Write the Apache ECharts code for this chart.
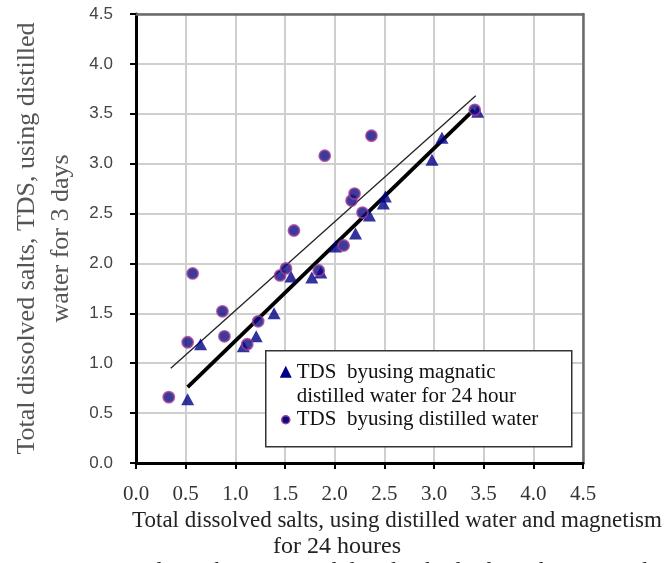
<!DOCTYPE html>
<html>
<head>
<meta charset="utf-8">
<script src="https://cdn.jsdelivr.net/npm/echarts@6/dist/echarts.min.js"></script>
<style>
  html, body { margin: 0; padding: 0; background: #ffffff; }
  #chart { width: 667px; height: 563px; }
</style>
</head>
<body>
<div id="chart"></div>
<script>
// TDS after 24 h in magnetised distilled water (x) vs TDS after 3 days (y)
const magnetizedPoints = [
  [0.52, 0.64], [0.65, 1.19], [1.08, 1.17], [1.21, 1.27], [1.39, 1.50],
  [1.56, 1.87], [1.77, 1.86], [1.86, 1.91], [2.01, 2.17], [2.21, 2.30],
  [2.35, 2.48], [2.49, 2.60], [2.51, 2.67], [2.98, 3.04], [3.08, 3.26],
  [3.44, 3.52]
];

// TDS in plain distilled water
const distilledPoints = [
  [0.33, 0.66], [0.52, 1.21], [0.57, 1.90], [0.87, 1.52], [0.89, 1.27],
  [1.12, 1.19], [1.23, 1.42], [1.45, 1.88], [1.51, 1.95], [1.59, 2.33],
  [1.84, 1.93], [1.90, 3.08], [2.09, 2.18], [2.17, 2.63], [2.20, 2.70],
  [2.28, 2.51], [2.37, 3.28], [3.41, 3.54]
];

// Linear trend lines (end points of each fitted line)
const magnetizedTrend = [[0.52, 0.76], [3.40, 3.54]];
const distilledTrend = [[0.35, 0.95], [3.42, 3.68]];

// Axis range and tick step shared by both axes
const axisMin = 0;
const axisMax = 4.5;
const axisStep = 0.5;

const legendLabels = [
  'TDS  byusing magnatic',
  'distilled water for 24 hour',
  'TDS  byusing distilled water'
];
const xTitleLines = [
  'Total dissolved salts, using distilled water and magnetism',
  'for 24 houres'
];
const yTitle = 'Total dissolved salts, TDS, using distilled\nwater for 3 days';
const captionText = 'Relation between total dissolved salts for 3 days using distilled water';

const serif = '"Liberation Serif", "Times New Roman", serif';
const sans = '"Liberation Sans", Arial, sans-serif';
const triColor = '#000086';
const dotFill = '#0a0a80';
const dotBorder = '#a03c9a';

const frameAxis = {
  type: 'value', min: axisMin, max: axisMax, interval: axisStep,
  axisLine: { show: true, onZero: false, lineStyle: { color: '#6a6a6a', width: 2.5 } },
  axisTick: { show: false }, axisLabel: { show: false }, splitLine: { show: false }
};

const chart = echarts.init(document.getElementById('chart'), null, { renderer: 'canvas' });

chart.setOption({
  animation: false,
  backgroundColor: '#ffffff',
  grid: { left: 136, top: 14, right: 84, bottom: 100 },
  xAxis: [
    {
      type: 'value', min: axisMin, max: axisMax, interval: axisStep, position: 'bottom',
      axisLine: { show: true, onZero: false, lineStyle: { color: '#000', width: 3 } },
      axisTick: { show: true, inside: false, length: 6, lineStyle: { color: '#000', width: 2 } },
      splitLine: { show: true, lineStyle: { color: '#cfcfcf', width: 2 } },
      axisLabel: {
        margin: 21, fontFamily: serif, fontSize: 21, color: '#333',
        formatter: v => v.toFixed(1)
      },
      name: xTitleLines[0], nameLocation: 'middle', nameGap: 40,
      nameTextStyle: { fontFamily: serif, fontSize: 23, color: '#222', padding: [0, 0, 0, 75] }
    },
    Object.assign({ position: 'top' }, frameAxis)
  ],
  yAxis: [
    {
      type: 'value', min: axisMin, max: axisMax, interval: axisStep, position: 'left',
      axisLine: { show: true, onZero: false, lineStyle: { color: '#000', width: 3 } },
      axisTick: { show: true, inside: false, length: 6, lineStyle: { color: '#000', width: 2 } },
      splitLine: { show: true, lineStyle: { color: '#cfcfcf', width: 2 } },
      axisLabel: {
        margin: 23, fontFamily: sans, fontSize: 17, color: '#444',
        formatter: v => v.toFixed(1)
      },
      name: yTitle, nameLocation: 'middle', nameRotate: 90, nameGap: 57,
      nameTextStyle: { fontFamily: serif, fontSize: 26, lineHeight: 34, color: '#555' }
    },
    Object.assign({ position: 'right' }, frameAxis)
  ],
  series: [
    {
      name: 'distilled trend', type: 'line', data: distilledTrend,
      showSymbol: false, silent: true, z: 2,
      lineStyle: { color: '#222', width: 1.3 }
    },
    {
      name: 'magnetized trend', type: 'line', data: magnetizedTrend,
      showSymbol: false, silent: true, z: 2,
      lineStyle: { color: '#000', width: 3.8 }
    },
    {
      name: legendLabels[0], type: 'scatter', data: magnetizedPoints, z: 3,
      symbol: 'triangle', symbolSize: [13, 12],
      itemStyle: { color: triColor }
    },
    {
      name: legendLabels[2], type: 'scatter', data: distilledPoints, z: 4,
      symbol: 'circle', symbolSize: 11,
      itemStyle: { color: dotFill, borderColor: dotBorder, borderWidth: 1.8 }
    }
  ],
  graphic: [
    // legend box
    {
      type: 'group', left: 265, top: 350, z: 100,
      children: [
        { type: 'rect', z: 100, shape: { x: 0, y: 0, width: 306, height: 96 },
          style: { fill: '#fff', stroke: '#333', lineWidth: 1.5 } },
        { type: 'polygon', z: 101, shape: { points: [[20, 15], [26, 27], [14, 27]] },
          style: { fill: triColor } },
        { type: 'circle', z: 101, shape: { cx: 20, cy: 69, r: 4 },
          style: { fill: dotFill, stroke: dotBorder, lineWidth: 1.5 } },
        { type: 'text', z: 101, x: 31, y: 22,
          style: { text: legendLabels[0], font: '21px ' + serif, fill: '#111', verticalAlign: 'middle' } },
        { type: 'text', z: 101, x: 31, y: 46,
          style: { text: legendLabels[1], font: '21px ' + serif, fill: '#111', verticalAlign: 'middle' } },
        { type: 'text', z: 101, x: 31, y: 69,
          style: { text: legendLabels[2], font: '21px ' + serif, fill: '#111', verticalAlign: 'middle' } }
      ]
    },
    // second line of the x-axis title
    {
      type: 'text', x: 337, y: 547, z: 10,
      style: { text: xTitleLines[1], font: '24px ' + serif, fill: '#222', align: 'center', verticalAlign: 'middle' }
    },
    // figure caption, running off the bottom edge
    {
      type: 'text', x: 131, y: 572, z: 10,
      style: { text: captionText, font: '23px ' + serif, fill: '#222', align: 'left', verticalAlign: 'middle' }
    }
  ]
});
</script>
</body>
</html>
